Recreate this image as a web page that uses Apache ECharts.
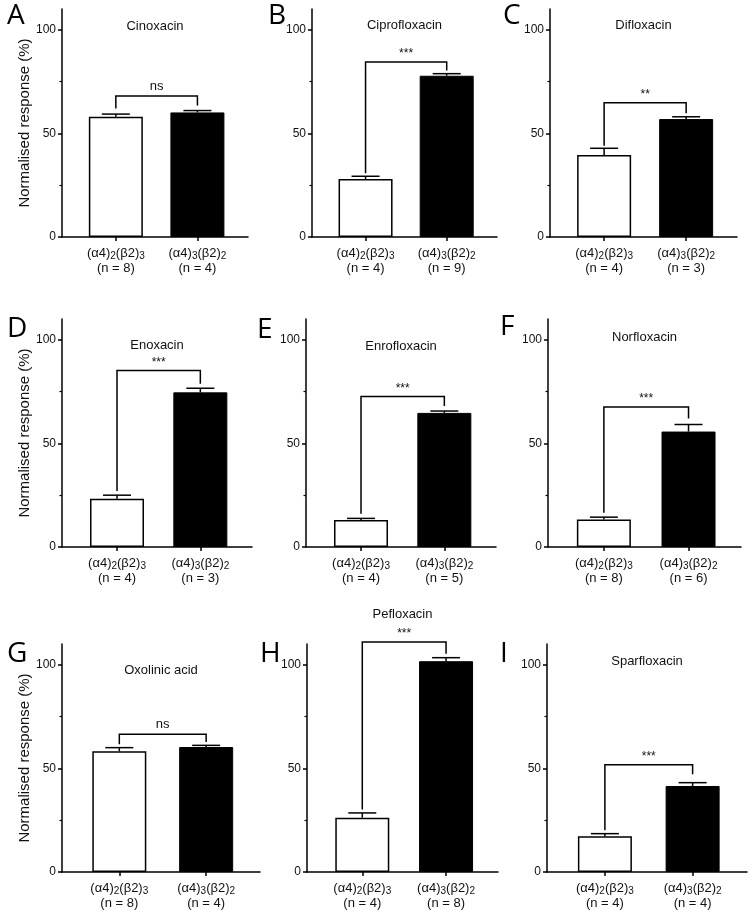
<!DOCTYPE html>
<html><head><meta charset="utf-8">
<script src="https://cdn.jsdelivr.net/npm/echarts@6/dist/echarts.min.js"></script>
<style>html,body{margin:0;padding:0;background:#fff}#c{width:752px;height:917px}</style>
</head><body><div id="c"></div>
<script>
// ---------- data ----------
const panelLetters = ['A','B','C','D','E','F','G','H','I'];
const drugNames = ['Cinoxacin','Ciprofloxacin','Difloxacin','Enoxacin','Enrofloxacin','Norfloxacin','Oxolinic acid','Pefloxacin','Sparfloxacin'];
// receptor stoichiometry labels: [text, subscript, text, subscript]
const receptorWhite = ['(α4)','2','(β2)','3'];
const receptorBlack = ['(α4)','3','(β2)','2'];
const whiteMean = [58.0, 28.0, 39.6, 23.3, 13.0, 13.3, 58.3, 26.2, 17.2];
const whiteErr  = [1.3, 1.3, 3.2, 1.7, 0.8, 1.1, 1.7, 2.3, 1.3];
const blackMean = [60.1, 77.8, 56.9, 74.6, 64.7, 55.7, 60.3, 101.7, 41.5];
const blackErr  = [0.9, 1.0, 1.1, 2.0, 0.9, 3.4, 0.8, 1.7, 1.6];
const nWhite = [8, 4, 4, 4, 4, 8, 8, 4, 4];
const nBlack = [4, 9, 3, 3, 5, 6, 4, 8, 4];
const sigLabel = ['ns','***','**','***','***','***','ns','***','***'];
const bracketTop = [68, 84.4, 64.8, 85.2, 72.6, 67.5, 66.4, 111, 51.8];
const bracketLegWhite = [62, 30.7, 44, 27, 16, 16.5, 61.6, 30.1, 20.1];
const bracketLegBlack = [63.5, 80.3, 59.7, 78.8, 68, 62, 62.7, 105.3, 47.1];
const yTickValues = [0, 50, 100];
const yMinorTickValues = [25, 75];
const groupPositions = [1, 2];

// ---------- layout (pixels) ----------
const rowTop = [9, 319, 644];
const plotH = 228;
const layout = [
  {left:62,  row:0, width:186, titleY:26,  letterX:7,   letterY:16},
  {left:312, row:0, width:185, titleY:25,  letterX:268, letterY:16},
  {left:550, row:0, width:187, titleY:25,  letterX:503, letterY:16},
  {left:62,  row:1, width:190, titleY:345, letterX:7,   letterY:329},
  {left:306, row:1, width:190, titleY:346, letterX:257, letterY:330},
  {left:548, row:1, width:193, titleY:337, letterX:500, letterY:327},
  {left:62,  row:2, width:198, titleY:670, letterX:7,   letterY:654},
  {left:307, row:2, width:191, titleY:614, letterX:260, letterY:654},
  {left:547, row:2, width:200, titleY:661, letterX:500, letterY:654}
];
const FONT = '"Liberation Sans", Arial, sans-serif';
const X_MIN = 0.34, X_MAX = 2.62, Y_MAX = 110;

function recLabel(parts, n) {
  return '{a|' + parts[0] + '}{s|' + parts[1] + '}{a|' + parts[2] + '}{s|' + parts[3] + '}\n{a|(n = ' + n + ')}';
}

const grid = [], xAxis = [], yAxis = [], series = [], graphic = [];
layout.forEach((L, i) => {
  grid.push({left: L.left, top: rowTop[L.row], width: L.width, height: plotH, containLabel: false});
  xAxis.push({
    type: 'value', gridIndex: i, min: X_MIN, max: X_MAX,
    axisLine: {show: true, lineStyle: {color: '#000', width: 1.5}},
    axisTick: {show: true, customValues: groupPositions, length: 4, inside: false, lineStyle: {color: '#000', width: 1.5}},
    splitLine: {show: false},
    axisLabel: {
      customValues: groupPositions, margin: 9, color: '#111',
      formatter: v => (Math.round(v) === 1 ? recLabel(receptorWhite, nWhite[i]) : recLabel(receptorBlack, nBlack[i])),
      rich: {
        a: {fontSize: 13, lineHeight: 15, fontFamily: FONT, color: '#111'},
        s: {fontSize: 10, lineHeight: 7, verticalAlign: 'bottom', fontFamily: FONT, color: '#111'}
      }
    }
  });
  yAxis.push({
    type: 'value', gridIndex: i, min: 0, max: Y_MAX, position: 'left',
    name: (i % 3 === 0) ? 'Normalised response (%)' : '',
    nameLocation: 'middle', nameGap: 24,
    nameTextStyle: {fontSize: 15, fontFamily: FONT, color: '#111'},
    axisLine: {show: true, lineStyle: {color: '#000', width: 1.5}},
    axisTick: {show: true, customValues: yTickValues, length: 4, lineStyle: {color: '#000', width: 1.5}},
    axisLabel: {customValues: yTickValues, margin: 6, fontSize: 12, fontFamily: FONT, color: '#111'},
    splitLine: {show: false}
  });
  yAxis.push({
    type: 'value', gridIndex: i, min: 0, max: Y_MAX, position: 'left', offset: 0,
    axisLine: {show: false},
    axisTick: {show: true, customValues: yMinorTickValues, length: 2.5, lineStyle: {color: '#000', width: 1.2}},
    axisLabel: {show: false},
    splitLine: {show: false}
  });

  series.push({
    type: 'bar', xAxisIndex: i, yAxisIndex: 2 * i, barWidth: 54,
    data: [
      {value: [groupPositions[0], whiteMean[i]], itemStyle: {color: '#fff', borderColor: '#000', borderWidth: 1.5}},
      {value: [groupPositions[1], blackMean[i]], itemStyle: {color: '#000', borderColor: '#000', borderWidth: 1}}
    ],
    silent: true
  });
  series.push({
    type: 'custom', xAxisIndex: i, yAxisIndex: 2 * i, clip: false, silent: true,
    encode: {x: 0, y: [1, 2]},
    data: [[groupPositions[0], whiteMean[i], whiteErr[i]], [groupPositions[1], blackMean[i], blackErr[i]]],
    renderItem: (params, api) => {
      const x = api.value(0), m = api.value(1), e = api.value(2);
      const p0 = api.coord([x, m]), p1 = api.coord([x, m + e]);
      return {type: 'group', children: [
        {type: 'line', shape: {x1: p0[0], y1: p0[1], x2: p1[0], y2: p1[1]}, style: {stroke: '#000', lineWidth: 1.5}},
        {type: 'line', shape: {x1: p1[0] - 14, y1: p1[1], x2: p1[0] + 14, y2: p1[1]}, style: {stroke: '#000', lineWidth: 1.5}}
      ]};
    }
  });
  series.push({
    type: 'custom', xAxisIndex: i, yAxisIndex: 2 * i, clip: false, silent: true,
    encode: {x: [0, 1], y: [2, 3, 4]},
    data: [[groupPositions[0], groupPositions[1], bracketTop[i], bracketLegWhite[i], bracketLegBlack[i]]],
    renderItem: (params, api) => {
      const xa = api.value(0), xb = api.value(1), top = api.value(2), la = api.value(3), lb = api.value(4);
      const a0 = api.coord([xa, la]), a1 = api.coord([xa, top]), b1 = api.coord([xb, top]), b0 = api.coord([xb, lb]);
      const isNs = sigLabel[i] === 'ns';
      return {type: 'group', children: [
        {type: 'polyline', shape: {points: [a0, a1, b1, b0]}, style: {stroke: '#000', lineWidth: 1.5, fill: null}},
        {type: 'text', x: (a1[0] + b1[0]) / 2, y: a1[1] - (isNs ? 3 : 2),
         style: {text: sigLabel[i], align: 'center', verticalAlign: 'bottom',
                 fontSize: isNs ? 13 : 12, fontFamily: FONT, fill: '#111'}}
      ]};
    }
  });

  graphic.push({type: 'text', x: L.left + L.width / 2, y: L.titleY,
    style: {text: drugNames[i], align: 'center', verticalAlign: 'middle', fontSize: 13, fontFamily: FONT, fill: '#111'}});
  graphic.push({type: 'text', x: L.letterX, y: L.letterY,
    style: {text: panelLetters[i], align: 'left', verticalAlign: 'middle', fontSize: 28, fontFamily: '"Open Sans", sans-serif', fill: '#000'}});
});

const chart = echarts.init(document.getElementById('c'), null, {renderer: 'canvas'});
chart.setOption({
  backgroundColor: '#fff',
  animation: false,
  grid, xAxis, yAxis, series, graphic
});
</script>
</body></html>
